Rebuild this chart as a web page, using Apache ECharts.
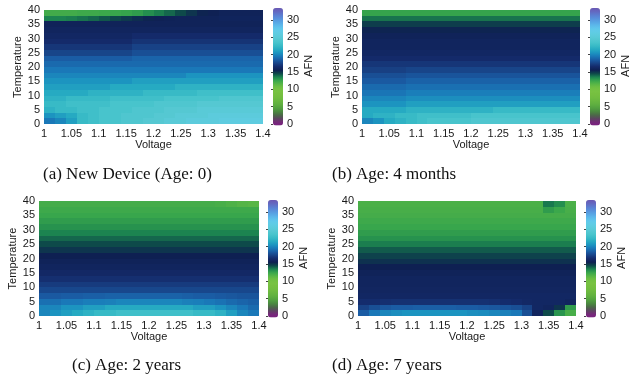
<!DOCTYPE html>
<html>
<head>
<meta charset="utf-8">
<script src="https://cdn.jsdelivr.net/npm/echarts@6/dist/echarts.min.js"></script>
<style>
  html, body { margin: 0; padding: 0; background: #fff; }
  #chart { width: 634px; height: 381px; }
</style>
</head>
<body>
<div id="chart"></div>
<script>
// lower edges of the cells
var voltages = [1.00, 1.02, 1.04, 1.06, 1.08, 1.10, 1.12, 1.14, 1.16, 1.18, 1.20, 1.22, 1.24, 1.26, 1.28, 1.30, 1.32, 1.34, 1.36, 1.38]
var temps = [0, 2, 4, 6, 8, 10, 12, 14, 16, 18, 20, 22, 24, 26, 28, 30, 32, 34, 36, 38]

var voltageTicks = [1, 1.05, 1.1, 1.15, 1.2, 1.25, 1.3, 1.35, 1.4]
var tempTicks = [0, 5, 10, 15, 20, 25, 30, 35, 40]
var afnTicks = [0, 5, 10, 15, 20, 25, 30]

var captions = ['(a) New Device (Age: 0)', '(b) Age: 4 months', '(c) Age: 2 years', '(d) Age: 7 years']

// AFN, one row per temperature (bottom row first), one column per voltage
var afnNew = [
  [19.5, 20, 21, 22.5, 23, 23.5, 23.5, 24, 24, 24.5, 24.5, 25, 25, 25.5, 25.5, 25.5, 26, 26, 26, 26],
  [20.5, 21, 21.5, 22.5, 23, 23.5, 23.5, 24, 24, 24, 24.5, 24.5, 25, 25, 25, 25.5, 25.5, 25.5, 25.5, 25.5],
  [22, 22.5, 22.5, 23, 23, 23.5, 23.5, 23.5, 24, 24, 24, 24.5, 24.5, 24.5, 25, 25, 25, 25, 25, 25],
  [22.5, 22.5, 23, 23, 23, 23, 23.5, 23.5, 23.5, 23.5, 24, 24, 24, 24, 24.5, 24.5, 24.5, 24.5, 24.5, 24.5],
  [22, 22, 22.5, 22.5, 22.5, 22.5, 23, 23, 23, 23, 23, 23.5, 23.5, 23.5, 23.5, 23.5, 24, 24, 24, 24],
  [21.5, 21.5, 21.5, 21.5, 22, 22, 22, 22, 22, 22.5, 22.5, 22.5, 22.5, 22.5, 23, 23, 23, 23, 23, 23],
  [21, 21, 21, 21, 21, 21, 21.5, 21.5, 21.5, 21.5, 21.5, 21.5, 22, 22, 22, 22, 22, 22, 22, 22],
  [20.5, 20.5, 20.5, 20.5, 20.5, 20.5, 20.5, 20.5, 21, 21, 21, 21, 21, 21, 21, 21, 21, 21, 21, 21],
  [20, 20, 20, 20, 20, 20, 20, 20, 20, 20, 20, 20, 20, 20.5, 20.5, 20.5, 20.5, 20.5, 20.5, 20.5],
  [19.5, 19.5, 19.5, 19.5, 19.5, 19.5, 19.5, 19.5, 19.5, 19.5, 19.5, 19.5, 19.5, 19.5, 19.5, 19.5, 19.5, 19.5, 19.5, 19.5],
  [19, 19, 19, 19, 19, 19, 19, 19, 19, 19, 19, 19, 19, 19, 19, 19, 19, 19, 19, 19],
  [18.5, 18.5, 18.5, 18.5, 18.5, 18.5, 18.5, 18.5, 18.8, 18.8, 18.8, 18.8, 18.8, 18.8, 18.8, 18.8, 18.8, 18.8, 18.8, 18.8],
  [17.6, 17.6, 17.6, 17.6, 17.6, 17.6, 17.6, 17.6, 18, 18, 18, 18, 18, 18, 18, 18, 18, 18, 18, 18],
  [17, 17, 17, 17, 17, 17, 17, 17, 17.5, 17.5, 17.5, 17.5, 17.5, 17.5, 17.5, 17.5, 17.5, 17.5, 17.5, 17.5],
  [16.5, 16.5, 16.5, 16.5, 16.5, 16.5, 16.5, 16.5, 16.9, 16.9, 16.9, 16.9, 16.9, 16.9, 16.9, 16.9, 16.9, 16.9, 16.9, 16.9],
  [16.2, 16.2, 16.2, 16.2, 16.2, 16.2, 16.2, 16.2, 16.5, 16.5, 16.5, 16.5, 16.5, 16.5, 16.5, 16.5, 16.5, 16.5, 16.5, 16.5],
  [16, 16, 16, 16, 16, 16, 16, 16, 16, 16, 16, 16, 16, 16, 16, 16, 16, 16, 16, 16],
  [15.8, 15.8, 15.8, 15.8, 15.8, 15.8, 15.8, 15.8, 15.8, 15.8, 15.8, 15.8, 15.8, 15.8, 15.8, 15.8, 15.8, 15.8, 15.8, 15.8],
  [13.5, 13.5, 13.6, 13.8, 14, 14.3, 14.6, 14.9, 15.2, 15.4, 15.6, 15.7, 15.8, 15.8, 15.8, 15.8, 15.9, 15.9, 15.9, 15.9],
  [12.2, 12.2, 12.2, 12.3, 12.3, 12.4, 12.5, 12.6, 12.8, 13.2, 13.6, 14, 14.5, 15, 15.4, 15.6, 15.8, 15.8, 15.8, 15.8]
]

var afn4Months = [
  [20, 20.5, 21.5, 22, 22.5, 23, 23.5, 23.5, 23.5, 23.5, 24, 24, 24, 24, 24, 24, 24, 24, 24, 24],
  [21.5, 22, 22, 22.5, 22.5, 23, 23, 23, 23, 23, 23.5, 23.5, 23.5, 23.5, 23.5, 23.5, 23.5, 23.5, 23.5, 23.5],
  [21.5, 21.5, 21.5, 21.5, 22, 22, 22, 22, 22, 22, 22, 22, 22.5, 22.5, 22.5, 22.5, 22.5, 22.5, 22.5, 22.5],
  [20.5, 20.5, 20.5, 20.5, 21, 21, 21, 21, 21, 21, 21, 21, 21, 21, 21, 21, 21, 21, 21, 21],
  [20, 20, 20, 20, 20.3, 20.3, 20.3, 20.3, 20.3, 20.3, 20.3, 20.3, 20.3, 20.3, 20.3, 20.3, 20.3, 20.3, 20.3, 20.3],
  [19.4, 19.4, 19.4, 19.4, 19.7, 19.7, 19.7, 19.7, 19.7, 19.7, 19.7, 19.7, 19.7, 19.7, 19.7, 19.7, 19.7, 19.7, 19.7, 19.7],
  [19, 19, 19, 19, 19.2, 19.2, 19.2, 19.2, 19.2, 19.2, 19.2, 19.2, 19.2, 19.2, 19.2, 19.2, 19.2, 19.2, 19.2, 19.2],
  [18.4, 18.4, 18.4, 18.4, 18.7, 18.7, 18.7, 18.7, 18.7, 18.7, 18.7, 18.7, 18.7, 18.7, 18.7, 18.7, 18.7, 18.7, 18.7, 18.7],
  [18, 18, 18, 18, 18.2, 18.2, 18.2, 18.2, 18.2, 18.2, 18.2, 18.2, 18.2, 18.2, 18.2, 18.2, 18.2, 18.2, 18.2, 18.2],
  [17.4, 17.4, 17.4, 17.4, 17.6, 17.6, 17.6, 17.6, 17.6, 17.6, 17.6, 17.6, 17.6, 17.6, 17.6, 17.6, 17.6, 17.6, 17.6, 17.6],
  [17, 17, 17, 17, 17, 17, 17, 17, 17, 17, 17, 17, 17, 17, 17, 17, 17, 17, 17, 17],
  [16.5, 16.5, 16.5, 16.5, 16.5, 16.5, 16.5, 16.5, 16.5, 16.5, 16.5, 16.5, 16.5, 16.5, 16.5, 16.5, 16.5, 16.5, 16.5, 16.5],
  [16.2, 16.2, 16.2, 16.2, 16.2, 16.2, 16.2, 16.2, 16.2, 16.2, 16.2, 16.2, 16.2, 16.2, 16.2, 16.2, 16.2, 16.2, 16.2, 16.2],
  [16, 16, 16, 16, 16, 16, 16, 16, 16, 16, 16, 16, 16, 16, 16, 16, 16, 16, 16, 16],
  [16, 16, 16, 16, 16, 16, 16, 16, 16, 16, 16, 16, 16, 16, 16, 16, 16, 16, 16, 16],
  [15.8, 15.8, 15.8, 15.8, 15.8, 15.8, 15.8, 15.8, 15.8, 15.8, 15.8, 15.8, 15.8, 15.8, 15.8, 15.8, 15.8, 15.8, 15.8, 15.8],
  [15.4, 15.4, 15.4, 15.4, 15.4, 15.4, 15.4, 15.4, 15.4, 15.4, 15.4, 15.4, 15.4, 15.4, 15.4, 15.4, 15.4, 15.4, 15.4, 15.4],
  [14.8, 14.8, 14.8, 14.8, 14.8, 14.8, 14.8, 14.8, 14.8, 14.8, 14.8, 14.8, 14.8, 14.8, 14.8, 14.8, 14.8, 14.8, 14.8, 14.8],
  [13.8, 13.8, 13.8, 13.8, 13.8, 13.8, 13.8, 13.8, 13.8, 13.8, 13.8, 13.8, 13.8, 13.8, 13.8, 13.8, 13.8, 13.8, 13.8, 13.8],
  [12.6, 12.6, 12.6, 12.6, 12.6, 12.6, 12.6, 12.6, 12.6, 12.6, 12.6, 12.6, 12.6, 12.6, 12.6, 12.6, 12.6, 12.6, 12.6, 12.6]
]

var afn2Years = [
  [20, 20.5, 21, 21.5, 22, 22.5, 22.5, 23, 23, 23, 23, 23, 23, 23, 22.5, 22.5, 22, 21, 20, 19.5],
  [20, 20, 20.5, 20.5, 21, 21, 21.5, 21.5, 21.5, 21.5, 21.5, 21.5, 21.5, 21.5, 21, 21, 20.5, 20, 19.5, 19],
  [19.2, 19.2, 19.5, 19.5, 19.7, 19.7, 19.8, 20, 20, 20, 20, 20, 20, 19.8, 19.7, 19.5, 19.3, 19, 18.8, 18.6],
  [18.4, 18.4, 18.5, 18.5, 18.6, 18.6, 18.7, 18.7, 18.7, 18.7, 18.7, 18.7, 18.7, 18.6, 18.5, 18.5, 18.4, 18.3, 18.2, 18.2],
  [17.7, 17.7, 17.7, 17.7, 17.7, 17.7, 17.7, 17.7, 17.7, 17.7, 17.7, 17.7, 17.7, 17.7, 17.7, 17.7, 17.7, 17.7, 17.7, 17.7],
  [17.2, 17.2, 17.2, 17.2, 17.2, 17.2, 17.2, 17.2, 17.2, 17.2, 17.2, 17.2, 17.2, 17.2, 17.2, 17.2, 17.2, 17.2, 17.2, 17.2],
  [16.7, 16.7, 16.7, 16.7, 16.7, 16.7, 16.7, 16.7, 16.7, 16.7, 16.7, 16.7, 16.7, 16.7, 16.7, 16.7, 16.7, 16.7, 16.7, 16.7],
  [16.3, 16.3, 16.3, 16.3, 16.3, 16.3, 16.3, 16.3, 16.3, 16.3, 16.3, 16.3, 16.3, 16.3, 16.3, 16.3, 16.3, 16.3, 16.3, 16.3],
  [16, 16, 16, 16, 16, 16, 16, 16, 16, 16, 16, 16, 16, 16, 16, 16, 16, 16, 16, 16],
  [15.8, 15.8, 15.8, 15.8, 15.8, 15.8, 15.8, 15.8, 15.8, 15.8, 15.8, 15.8, 15.8, 15.8, 15.8, 15.8, 15.8, 15.8, 15.8, 15.8],
  [15.5, 15.5, 15.5, 15.5, 15.5, 15.5, 15.5, 15.5, 15.5, 15.5, 15.5, 15.5, 15.5, 15.5, 15.5, 15.5, 15.5, 15.5, 15.5, 15.5],
  [15, 15, 15, 15, 15, 15, 15, 15, 15, 15, 15, 15, 15, 15, 15, 15, 15, 15, 15, 15],
  [14.5, 14.5, 14.5, 14.5, 14.5, 14.5, 14.5, 14.5, 14.5, 14.5, 14.5, 14.5, 14.5, 14.5, 14.5, 14.5, 14.5, 14.5, 14.5, 14.5],
  [14, 14, 14, 14, 14, 14, 14, 14, 14, 14, 14, 14, 14, 14, 14, 14, 14, 14, 14, 14],
  [13.5, 13.5, 13.5, 13.5, 13.5, 13.5, 13.5, 13.5, 13.5, 13.5, 13.5, 13.5, 13.5, 13.5, 13.5, 13.5, 13.5, 13.5, 13.5, 13.5],
  [13.1, 13.1, 13.1, 13.1, 13.1, 13.1, 13.1, 13.1, 13.1, 13.1, 13.1, 13.1, 13.1, 13.1, 13.1, 13.1, 13.1, 13.1, 13.1, 13.1],
  [12.8, 12.8, 12.8, 12.8, 12.8, 12.8, 12.8, 12.8, 12.8, 12.8, 12.8, 12.8, 12.8, 12.8, 12.8, 12.8, 12.8, 12.8, 12.8, 12.8],
  [12.5, 12.5, 12.5, 12.5, 12.5, 12.5, 12.5, 12.5, 12.5, 12.5, 12.5, 12.5, 12.5, 12.5, 12.5, 12.5, 12.5, 12.5, 12.5, 12.5],
  [12.3, 12.3, 12.3, 12.3, 12.3, 12.3, 12.3, 12.3, 12.3, 12.3, 12.3, 12.3, 12.3, 12.3, 12.3, 12.3, 12.3, 12.3, 12.3, 12.3],
  [12.1, 12.1, 12.1, 12.1, 12.1, 12.1, 12.1, 12.1, 12.1, 12.1, 12.1, 12.1, 12.1, 12.1, 12.1, 12.1, 12, 11.8, 11.6, 11.5]
]

var afn7Years = [
  [18.5, 19.5, 20, 20.3, 20.5, 20.5, 20.5, 20.5, 20.5, 20.5, 20.3, 20.2, 20, 19.8, 19.5, 18, 16, 14.5, 13, 12],
  [17.5, 18, 18.3, 18.5, 18.5, 18.6, 18.6, 18.6, 18.6, 18.5, 18.5, 18.4, 18.3, 18.2, 18, 17.5, 16.2, 16, 15, 12.8],
  [16.6, 16.6, 16.7, 16.8, 16.8, 16.8, 16.8, 16.8, 16.8, 16.8, 16.8, 16.8, 16.7, 16.6, 16.5, 16.3, 16.2, 16.2, 16.2, 16],
  [16.2, 16.2, 16.2, 16.2, 16.2, 16.2, 16.2, 16.2, 16.2, 16.2, 16.2, 16.2, 16.2, 16.2, 16.2, 16.2, 16.2, 16.2, 16.2, 16.2],
  [16.1, 16.1, 16.1, 16.1, 16.1, 16.1, 16.1, 16.1, 16.1, 16.1, 16.1, 16.1, 16.1, 16.1, 16.1, 16.1, 16.1, 16.1, 16.1, 16.1],
  [16, 16, 16, 16, 16, 16, 16, 16, 16, 16, 16, 16, 16, 16, 16, 16, 16, 16, 16, 16],
  [16, 16, 16, 16, 16, 16, 16, 16, 16, 16, 16, 16, 16, 16, 16, 16, 16, 16, 16, 16],
  [15.8, 15.8, 15.8, 15.8, 15.8, 15.8, 15.8, 15.8, 15.8, 15.8, 15.8, 15.8, 15.8, 15.8, 15.8, 15.8, 15.8, 15.8, 15.8, 15.8],
  [15.5, 15.5, 15.5, 15.5, 15.5, 15.5, 15.5, 15.5, 15.5, 15.5, 15.5, 15.5, 15.5, 15.5, 15.5, 15.5, 15.5, 15.5, 15.5, 15.5],
  [15.1, 15.1, 15.1, 15.1, 15.1, 15.1, 15.1, 15.1, 15.1, 15.1, 15.1, 15.1, 15.1, 15.1, 15.1, 15.1, 15.1, 15.1, 15.1, 15.1],
  [14.7, 14.7, 14.7, 14.7, 14.7, 14.7, 14.7, 14.7, 14.7, 14.7, 14.7, 14.7, 14.7, 14.7, 14.7, 14.7, 14.7, 14.7, 14.7, 14.7],
  [14.2, 14.2, 14.2, 14.2, 14.2, 14.2, 14.2, 14.2, 14.2, 14.2, 14.2, 14.2, 14.2, 14.2, 14.2, 14.2, 14.2, 14.2, 14.2, 14.2],
  [13.6, 13.6, 13.6, 13.6, 13.6, 13.6, 13.6, 13.6, 13.6, 13.6, 13.6, 13.6, 13.6, 13.6, 13.6, 13.6, 13.6, 13.6, 13.6, 13.6],
  [13.1, 13.1, 13.1, 13.1, 13.1, 13.1, 13.1, 13.1, 13.1, 13.1, 13.1, 13.1, 13.1, 13.1, 13.1, 13.1, 13.1, 13.1, 13.1, 13.1],
  [12.8, 12.8, 12.8, 12.8, 12.8, 12.8, 12.8, 12.8, 12.8, 12.8, 12.8, 12.8, 12.8, 12.8, 12.8, 12.8, 12.8, 12.8, 12.8, 12.8],
  [12.5, 12.5, 12.5, 12.5, 12.5, 12.5, 12.5, 12.5, 12.5, 12.5, 12.5, 12.5, 12.5, 12.5, 12.5, 12.5, 12.5, 12.5, 12.5, 12.5],
  [12.3, 12.3, 12.3, 12.3, 12.3, 12.3, 12.3, 12.3, 12.3, 12.3, 12.3, 12.3, 12.3, 12.3, 12.3, 12.3, 12.3, 12.3, 12.3, 12.3],
  [12.1, 12.1, 12.1, 12.1, 12.1, 12.1, 12.1, 12.1, 12.1, 12.1, 12.1, 12.1, 12.1, 12.1, 12.1, 12.1, 12.1, 12.1, 12.1, 12.1],
  [12, 12, 12, 12, 12, 12, 12, 12, 12, 12, 12, 12, 12, 12, 12, 12, 12, 12.8, 12.4, 12],
  [11.9, 11.9, 11.9, 11.9, 11.9, 11.9, 11.9, 11.9, 11.9, 11.9, 11.9, 11.9, 11.9, 11.9, 11.9, 11.9, 11.9, 13.7, 13.2, 11.9]
]

// colour map, evenly spaced from -0.5 to 33.5
var colorScale = [
  '#7b1f80', '#742a78', '#5c4660', '#4c6848', '#4a8840', '#52a040', '#5eae40', '#68b640',
  '#70bc40', '#76c040', '#78c242', '#70c042', '#58b646', '#38a64c', '#1c8450', '#0e4a4a',
  '#0e2052', '#142a6a', '#184286', '#1a5ca4', '#1a78b8', '#1c94c0', '#26aac2', '#38bac6',
  '#48c4cc', '#55c8d2', '#5ccbdc', '#60cce4', '#60c8ec', '#5cb8ea', '#58a4e4', '#5890dc',
  '#5c7cd0', '#6468c0', '#6a58b4'
]

var chart = echarts.init(document.getElementById('chart'))
var font = 'Liberation Sans, Arial, Helvetica, sans-serif'
var textColor = '#1a1a1a'
var cellW = voltages[1] - voltages[0]
var cellH = temps[1] - temps[0]

var panels = [
  { rows: afnNew, plot: { left: 44, top: 10, width: 219, height: 114 }, bar: { left: 273, top: 8 }, cap: [43, 176] },
  { rows: afn4Months, plot: { left: 362, top: 10, width: 218, height: 114 }, bar: { left: 590, top: 8 }, cap: [332, 176] },
  { rows: afn2Years, plot: { left: 39, top: 201, width: 220, height: 115 }, bar: { left: 268, top: 200 }, cap: [72, 367] },
  { rows: afn7Years, plot: { left: 358, top: 201, width: 218, height: 115 }, bar: { left: 586, top: 200 }, cap: [332, 367] }
]

function toCells(rows) {
  var out = []
  rows.forEach(function (row, r) {
    row.forEach(function (v, c) {
      out.push([voltages[c], temps[r], v])
    })
  })
  return out
}

function renderCell(params, api) {
  var p0 = api.coord([api.value(0), api.value(1) + cellH])
  var p1 = api.coord([api.value(0) + cellW, api.value(1)])
  var x0 = Math.round(p0[0]), y0 = Math.round(p0[1])
  var x1 = Math.round(p1[0]), y1 = Math.round(p1[1])
  return {
    type: 'rect',
    shape: { x: x0, y: y0, width: x1 - x0, height: y1 - y0 },
    style: { fill: api.visual('color') }
  }
}

var grid = [], xAxis = [], yAxis = [], series = [], visualMap = [], graphic = []
var barLen = 117.5          // -0.5 .. 33.5
var tickLen = barLen * 33.5 / 34

panels.forEach(function (p, i) {
  grid.push(p.plot)
  xAxis.push({
    type: 'value', gridIndex: i, min: 1, max: 1.4,
    name: 'Voltage', nameLocation: 'middle', nameGap: 14.5,
    nameTextStyle: { fontFamily: font, fontSize: 11, color: textColor },
    axisLine: { show: false }, axisTick: { show: false }, splitLine: { show: false },
    axisLabel: { customValues: voltageTicks, margin: 4, fontFamily: font, fontSize: 11, color: textColor }
  })
  yAxis.push({
    type: 'value', gridIndex: i, min: 0, max: 40,
    name: 'Temperature', nameLocation: 'middle', nameGap: 17,
    nameTextStyle: { fontFamily: font, fontSize: 11, color: textColor },
    axisLine: { show: false }, axisTick: { show: false }, splitLine: { show: false },
    axisLabel: { customValues: tempTicks, margin: 4, fontFamily: font, fontSize: 11, color: textColor }
  })
  series.push({
    type: 'custom', xAxisIndex: i, yAxisIndex: i,
    renderItem: renderCell, data: toCells(p.rows), silent: true
  })
  visualMap.push({
    type: 'continuous', seriesIndex: i, dimension: 2, min: -0.5, max: 33.5,
    calculable: false, hoverLink: false, orient: 'vertical',
    left: p.bar.left, top: p.bar.top, itemWidth: 10, itemHeight: barLen, padding: 0,
    inRange: { color: colorScale }
  })
  graphic.push({
    type: 'text', left: p.cap[0], top: p.cap[1] - 10,
    style: { text: captions[i], fontFamily: 'Liberation Serif, Times New Roman, serif', fontSize: 17, fill: '#111' }
  })
})

// colorbar tick labels
panels.forEach(function (p, i) {
  grid.push({ left: p.bar.left, top: p.bar.top, width: 10, height: tickLen })
  xAxis.push({ type: 'value', gridIndex: 4 + i, min: 0, max: 1, show: false })
  yAxis.push({
    type: 'value', gridIndex: 4 + i, min: 0, max: 33.5, position: 'right',
    name: 'AFN', nameLocation: 'middle', nameRotate: 90, nameGap: 15,
    nameTextStyle: { fontFamily: font, fontSize: 11, color: textColor },
    axisLine: { show: false }, splitLine: { show: false },
    axisTick: { show: true, inside: true, length: 2, customValues: afnTicks, lineStyle: { color: '#444' } },
    axisLabel: { customValues: afnTicks, margin: 4, fontFamily: font, fontSize: 11, color: textColor }
  })
})

chart.setOption({
  backgroundColor: '#fff',
  animation: false,
  grid: grid,
  xAxis: xAxis,
  yAxis: yAxis,
  visualMap: visualMap,
  series: series,
  graphic: graphic
})
</script>
</body>
</html>
